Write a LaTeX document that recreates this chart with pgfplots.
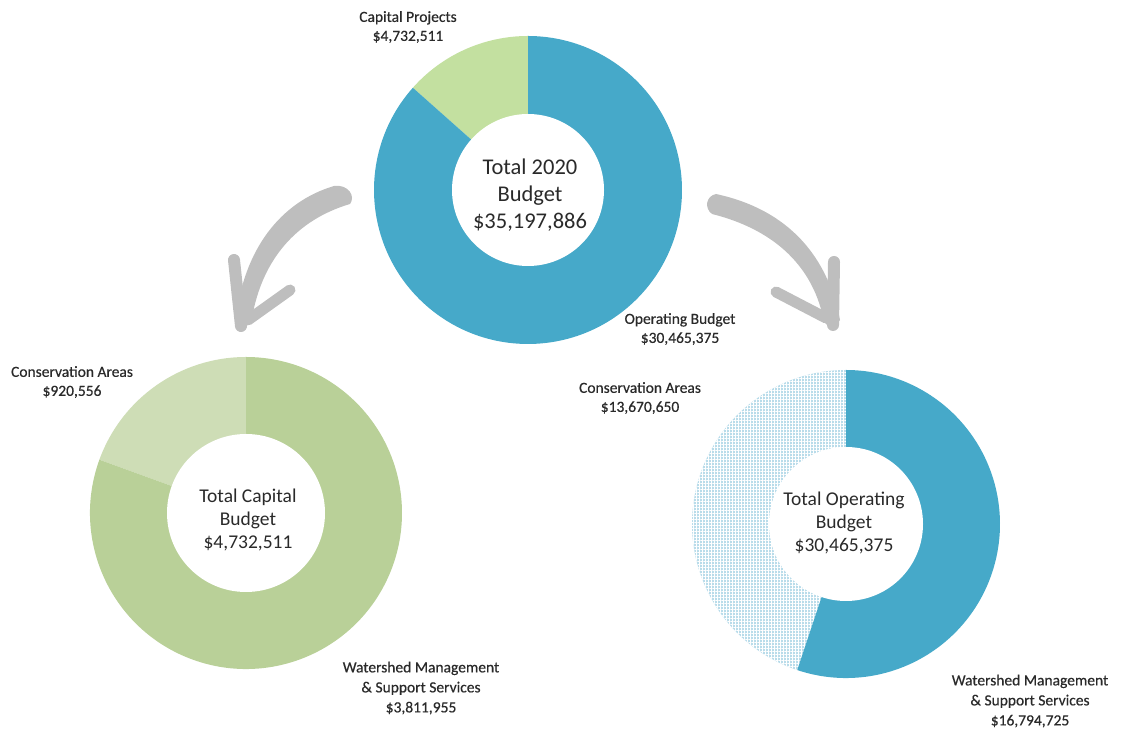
\documentclass[border=0pt]{standalone}
\usepackage{pgfplots}
\pgfplotsset{compat=1.18}
\usepackage{fontspec}
\setmainfont{Carlito}
\newfontfamily\labfont[FakeBold=0.5]{Carlito}
\usetikzlibrary{patterns.meta}
\definecolor{blueA}{HTML}{46A9C9}
\definecolor{greenTop}{HTML}{C3E0A0}
\definecolor{greenDark}{HTML}{B9D098}
\definecolor{greenLight}{HTML}{CEDDB6}
\definecolor{blueLight}{HTML}{B9DCEA}
\definecolor{arrowgray}{HTML}{BEBEBE}
\definecolor{txt}{HTML}{2A2A2A}
% values
\def\vCapital{4732511}
\def\vOperating{30465375}
\def\vCapCons{920556}
\def\vCapWat{3811955}
\def\vOpCons{13670650}
\def\vOpWat{16794725}
\edef\aTop{\fpeval{90+360*\vCapital/(\vCapital+\vOperating)}}
\edef\aLeft{\fpeval{90+360*\vCapCons/(\vCapCons+\vCapWat)}}
\edef\aRight{\fpeval{90+360*\vOpCons/(\vOpCons+\vOpWat)}}
\newcommand{\wedgefill}[6]{% cx cy R a1 a2 style
  \fill[#6] (axis cs:#1,#2) -- ++(#4:#3) arc[start angle=#4,end angle=#5,radius=#3] -- cycle;}
\begin{document}
\begin{tikzpicture}
\begin{axis}[hide axis, x=1bp, y=1bp, xmin=0, xmax=1121, ymin=0, ymax=732,
  enlargelimits=false, clip=false, scale only axis]
\path (axis cs:0,0) rectangle (axis cs:1121,732);
% top donut (528,190)
\wedgefill{528}{542}{154bp}{90}{\aTop}{greenTop}
\wedgefill{528}{542}{154bp}{\aTop}{450}{blueA}
\fill[white] (axis cs:528,542) circle[radius=76bp];
% left donut (246,513)
\wedgefill{246}{219}{156bp}{90}{\aLeft}{greenLight}
\wedgefill{246}{219}{156bp}{\aLeft}{450}{greenDark}
\fill[white] (axis cs:246,219) circle[radius=79bp];
% right donut (846,524)
\wedgefill{846}{208}{154bp}{90}{\aRight}{blueLight}
\wedgefill{846}{208}{154bp}{90}{\aRight}{pattern={Lines[distance=3bp,angle=0,line width=0.7bp]},pattern color=white}
\wedgefill{846}{208}{154bp}{90}{\aRight}{pattern={Lines[distance=3bp,angle=90,line width=0.7bp]},pattern color=white}
\wedgefill{846}{208}{154bp}{\aRight}{450}{blueA}
\fill[white] (axis cs:846,208) circle[radius=77bp];
% left arrow
\fill[arrowgray] (axis cs:334,546) .. controls (axis cs:280,530) and (axis cs:244,482) .. (axis cs:236,414)
  -- (axis cs:242,402) -- (axis cs:252,414)
  .. controls (axis cs:262,472) and (axis cs:296,512) .. (axis cs:350,528)
  .. controls (axis cs:356,536) and (axis cs:348,548) .. cycle;
\draw[arrowgray, line width=12bp, line cap=round] (axis cs:234,472) -- (axis cs:241,406);
\draw[arrowgray, line width=11bp, line cap=round] (axis cs:290,442) -- (axis cs:248,412);
% right arrow
\fill[arrowgray] (axis cs:716,538) .. controls (axis cs:790,522) and (axis cs:828,474) .. (axis cs:840,412)
  -- (axis cs:832,402) -- (axis cs:824,410)
  .. controls (axis cs:814,464) and (axis cs:776,502) .. (axis cs:712,518)
  .. controls (axis cs:704,524) and (axis cs:706,536) .. cycle;
\draw[arrowgray, line width=12bp, line cap=round] (axis cs:834,470) -- (axis cs:833,407);
\draw[arrowgray, line width=11bp, line cap=round] (axis cs:776,440) -- (axis cs:826,414);
% center texts
\node[align=center, text=txt, font=\fontsize{22.5bp}{27bp}\selectfont] at (axis cs:530,537) {Total 2020\\Budget\\\$35,197,886};
\node[align=center, text=txt, font=\fontsize{19.5bp}{23bp}\selectfont] at (axis cs:248,212) {Total Capital\\Budget\\\$4,732,511};
\node[align=center, text=txt, font=\fontsize{19.5bp}{23bp}\selectfont] at (axis cs:844,209) {Total Operating\\Budget\\\$30,465,375};
% labels
\node[align=center, text=txt, font=\labfont\fontsize{15.5bp}{19bp}\selectfont] at (axis cs:408,705) {Capital Projects\\\$4,732,511};
\node[align=center, text=txt, font=\labfont\fontsize{15.5bp}{19bp}\selectfont] at (axis cs:680,403) {Operating Budget\\\$30,465,375};
\node[align=center, text=txt, font=\labfont\fontsize{15.5bp}{19bp}\selectfont] at (axis cs:72,350) {Conservation Areas\\\$920,556};
\node[align=center, text=txt, font=\labfont\fontsize{15.5bp}{20bp}\selectfont] at (axis cs:421,44) {Watershed Management\\\& Support Services\\\$3,811,955};
\node[align=center, text=txt, font=\labfont\fontsize{15.5bp}{19bp}\selectfont] at (axis cs:640,334) {Conservation Areas\\\$13,670,650};
\node[align=center, text=txt, font=\labfont\fontsize{15.5bp}{20bp}\selectfont] at (axis cs:1030,31) {Watershed Management\\\& Support Services\\\$16,794,725};
\end{axis}
\end{tikzpicture}
\end{document}
